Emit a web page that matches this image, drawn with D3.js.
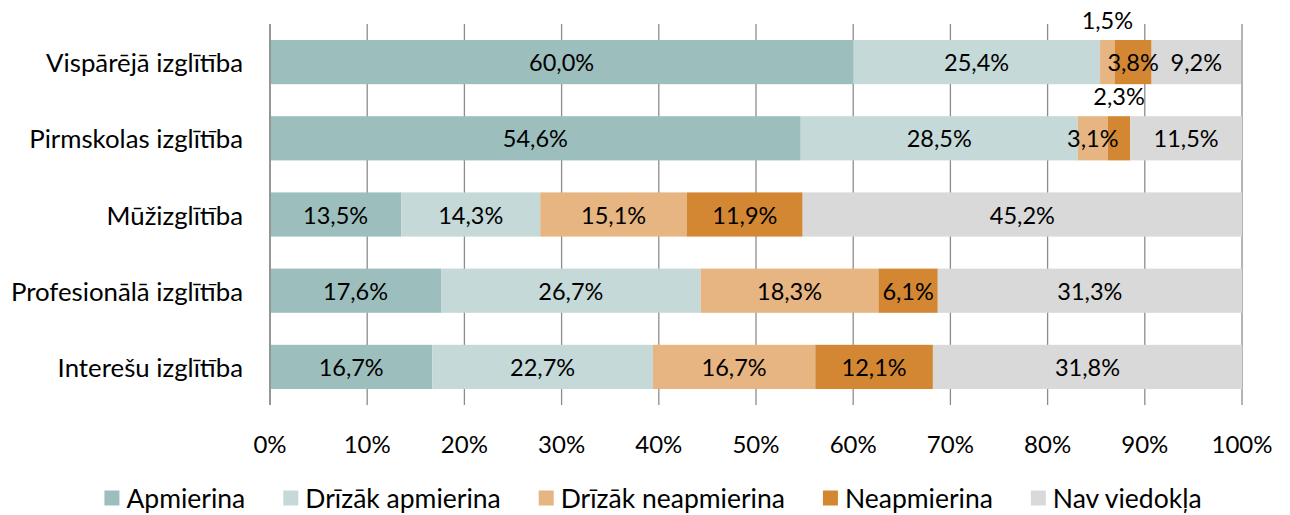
<!DOCTYPE html>
<html>
<head>
<meta charset="utf-8">
<script src="https://cdn.jsdelivr.net/npm/d3@7"></script>
<style>
  body { margin: 0; background: #fff; }
  svg text { font-family: Lato, "Noto Sans", sans-serif; fill: #000; }
</style>
</head>
<body>
<script>
// data
const categories = ["Vispārējā izglītība", "Pirmskolas izglītība", "Mūžizglītība", "Profesionālā izglītība", "Interešu izglītība"];
const seriesNames = ["Apmierina", "Drīzāk apmierina", "Drīzāk neapmierina", "Neapmierina", "Nav viedokļa"];
const apmierina       = [60.0, 54.6, 13.5, 17.6, 16.7];
const drizakApmierina = [25.4, 28.5, 14.3, 26.7, 22.7];
const drizakNeapm     = [1.5, 3.1, 15.1, 18.3, 16.7];
const neapmierina     = [3.8, 2.3, 11.9, 6.1, 12.1];
const navViedokla     = [9.2, 11.5, 45.2, 31.3, 31.8];
const tickValues = [0, 10, 20, 30, 40, 50, 60, 70, 80, 90, 100];

const colors = ["#9cbfbe", "#c4d9d8", "#e6b581", "#d38732", "#d9d9d9"];
const series = [apmierina, drizakApmierina, drizakNeapm, neapmierina, navViedokla];

const width = 1290, height = 515;
const margin = {top: 24, left: 270, right: 48, bottom: 110};

const svg = d3.select("body").append("svg")
  .attr("width", width)
  .attr("height", height);

const x = d3.scaleLinear().domain([0, 100]).range([margin.left, width - margin.right]);
const y = d3.scaleBand().domain(categories)
  .range([margin.top, height - margin.bottom])
  .paddingInner(0.42).paddingOuter(0.21);

const fmt = v => d3.format(".1f")(v).replace(".", ",") + "%";

// gridlines (behind bars)
const gridBottom = height - margin.bottom;
svg.append("g").selectAll("line")
  .data(tickValues)
  .join("line")
  .attr("x1", d => x(d)).attr("x2", d => x(d))
  .attr("y1", margin.top).attr("y2", gridBottom)
  .attr("stroke", "#8c8c8c")
  .attr("stroke-width", 1.3);

// stacked segments
const rows = categories.map((c, i) => {
  let acc = 0;
  return series.map((s, k) => {
    const seg = {cat: c, k: k, x0: acc, x1: acc + s[i], v: s[i]};
    acc += s[i];
    return seg;
  });
});
const segs = rows.flat();

svg.append("g").selectAll("rect")
  .data(segs)
  .join("rect")
  .attr("x", d => x(d.x0))
  .attr("width", d => x(d.x1) - x(d.x0))
  .attr("y", d => y(d.cat))
  .attr("height", y.bandwidth())
  .attr("fill", d => colors[d.k]);

// segment labels, small ones go above the bar
svg.append("g").selectAll("text")
  .data(segs)
  .join("text")
  .attr("x", d => x((d.x0 + d.x1) / 2))
  .attr("y", d => d.v < 2.5 ? y(d.cat) - 20 : y(d.cat) + y.bandwidth() / 2)
  .attr("text-anchor", "middle")
  .attr("dominant-baseline", "central")
  .attr("font-size", 23.5)
  .text(d => fmt(d.v));

// y labels
svg.append("g").selectAll("text")
  .data(categories)
  .join("text")
  .attr("x", margin.left - 27)
  .attr("y", d => y(d) + y.bandwidth() / 2)
  .attr("text-anchor", "end")
  .attr("dominant-baseline", "central")
  .attr("font-size", 25.8)
  .text(d => d);

// x axis: line, ticks extend down
svg.append("line")
  .attr("x1", x(0)).attr("x2", x(0))
  .attr("y1", margin.top).attr("y2", gridBottom)
  .attr("stroke", "#8c8c8c").attr("stroke-width", 1.5);

svg.append("g").selectAll("text")
  .data(tickValues)
  .join("text")
  .attr("x", d => x(d))
  .attr("y", 443)
  .attr("text-anchor", "middle")
  .attr("dominant-baseline", "central")
  .attr("font-size", 24)
  .text(d => d + "%");

// legend
const legend = svg.append("g");
let lx = 0;
seriesNames.forEach((name, k) => {
  const g = legend.append("g").attr("transform", "translate(" + lx + ",0)");
  g.append("rect").attr("x", 0).attr("y", -7.5).attr("width", 15).attr("height", 15).attr("fill", colors[k]);
  const t = g.append("text").attr("x", 22).attr("y", 0)
    .attr("dominant-baseline", "central").attr("font-size", 26.5).text(name);
  lx += 22 + t.node().getComputedTextLength() + 38;
});
lx -= 38;
legend.attr("transform", "translate(" + ((width - lx) / 2 + 8) + ",498)");
</script>
</body>
</html>
